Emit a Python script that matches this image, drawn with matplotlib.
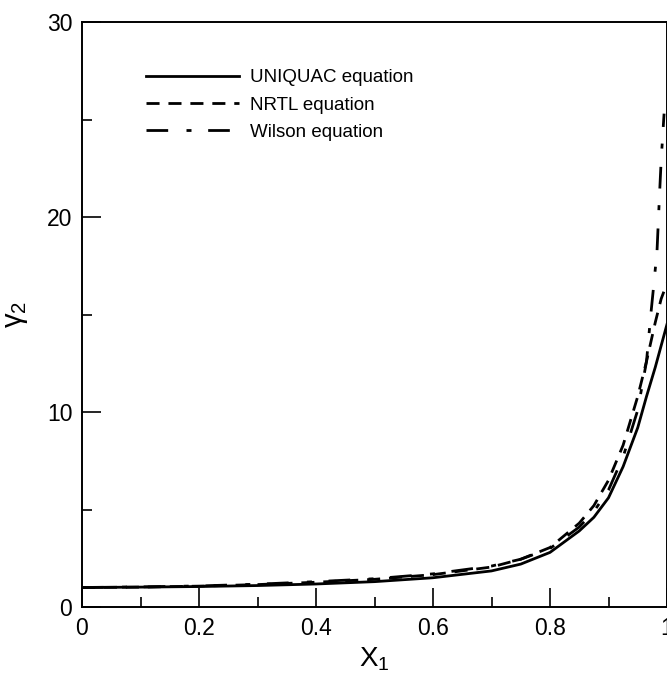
import numpy as np
import matplotlib
matplotlib.use("Agg")
import matplotlib.pyplot as plt

plt.rcParams['font.family'] = ['Liberation Sans', 'DejaVu Sans']

# mole fraction x1 and activity coefficient gamma2
x_uniquac = [0.0, 0.1, 0.2, 0.3, 0.4, 0.5, 0.6, 0.7, 0.75, 0.8, 0.85, 0.875,
             0.9, 0.925, 0.95, 0.965, 0.98, 0.99, 1.0]
g_uniquac = [1.0, 1.02, 1.05, 1.10, 1.18, 1.30, 1.50, 1.85, 2.2, 2.8, 3.9, 4.6,
             5.6, 7.2, 9.2, 10.8, 12.3, 13.4, 14.5]

x_nrtl = [0.0, 0.1, 0.2, 0.3, 0.4, 0.5, 0.6, 0.7, 0.75, 0.8, 0.85, 0.875,
          0.9, 0.925, 0.95, 0.965, 0.98, 0.99, 1.0]
g_nrtl = [1.0, 1.02, 1.07, 1.15, 1.27, 1.42, 1.66, 2.05, 2.45, 3.05, 4.3, 5.2,
          6.5, 8.3, 10.8, 12.6, 14.6, 15.8, 16.6]

x_wilson = [0.0, 0.1, 0.2, 0.3, 0.4, 0.5, 0.6, 0.7, 0.75, 0.8, 0.85, 0.875,
            0.9, 0.925, 0.95, 0.965, 0.972, 0.978, 0.983, 0.987, 0.99, 0.995]
g_wilson = [1.0, 1.03, 1.08, 1.17, 1.30, 1.45, 1.70, 2.1, 2.45, 3.0, 4.1, 4.9,
            6.0, 7.7, 10.1, 12.6, 14.9, 16.7, 18.3, 21.0, 22.9, 25.3]

xticks = [0, 0.2, 0.4, 0.6, 0.8, 1.0]
xticklabels = ['0', '0.2', '0.4', '0.6', '0.8', '1']
yticks = [0, 10, 20, 30]

fig = plt.figure(figsize=(6.67, 6.78), dpi=100)
ax = fig.add_axes([82/667, 71/678, 585/667, 585/678])

lw = 2.0
ax.plot(x_uniquac, g_uniquac, color='black', lw=lw, label='UNIQUAC equation')
ax.plot(x_nrtl, g_nrtl, color='black', lw=lw, dashes=(4.7, 3.2), label='NRTL equation')
ax.plot(x_wilson, g_wilson, color='black', lw=lw, dashes=(7.8, 6.6, 1.8, 6.0),
        label='Wilson equation')

ax.set_xlim(0, 1)
ax.set_ylim(0, 30)
ax.set_xticks(xticks)
ax.set_xticklabels(xticklabels)
ax.set_xticks(np.arange(0.1, 1.0, 0.2), minor=True)
ax.set_yticks(yticks)
ax.set_yticks([5, 15, 25], minor=True)
ax.tick_params(which='major', direction='in', length=13.7, width=1.2, labelsize=16.5, pad=7)
ax.tick_params(which='minor', direction='in', length=7.2, width=1.2)
for s in ax.spines.values():
    s.set_linewidth(1.4)

ax.set_xlabel('X$_\\mathregular{1}$', fontsize=20, labelpad=4)
ax.set_ylabel('\u03b3$_\\mathregular{2}$', fontsize=21, labelpad=12)

leg = ax.legend(loc='upper left', bbox_to_anchor=(146/667, 1 - 69/678),
                bbox_transform=fig.transFigure, frameon=False, fontsize=13.5,
                handlelength=4.95, handletextpad=0.62, labelspacing=0.55,
                borderpad=0, borderaxespad=0)

fig.savefig('out.png', dpi=100)
